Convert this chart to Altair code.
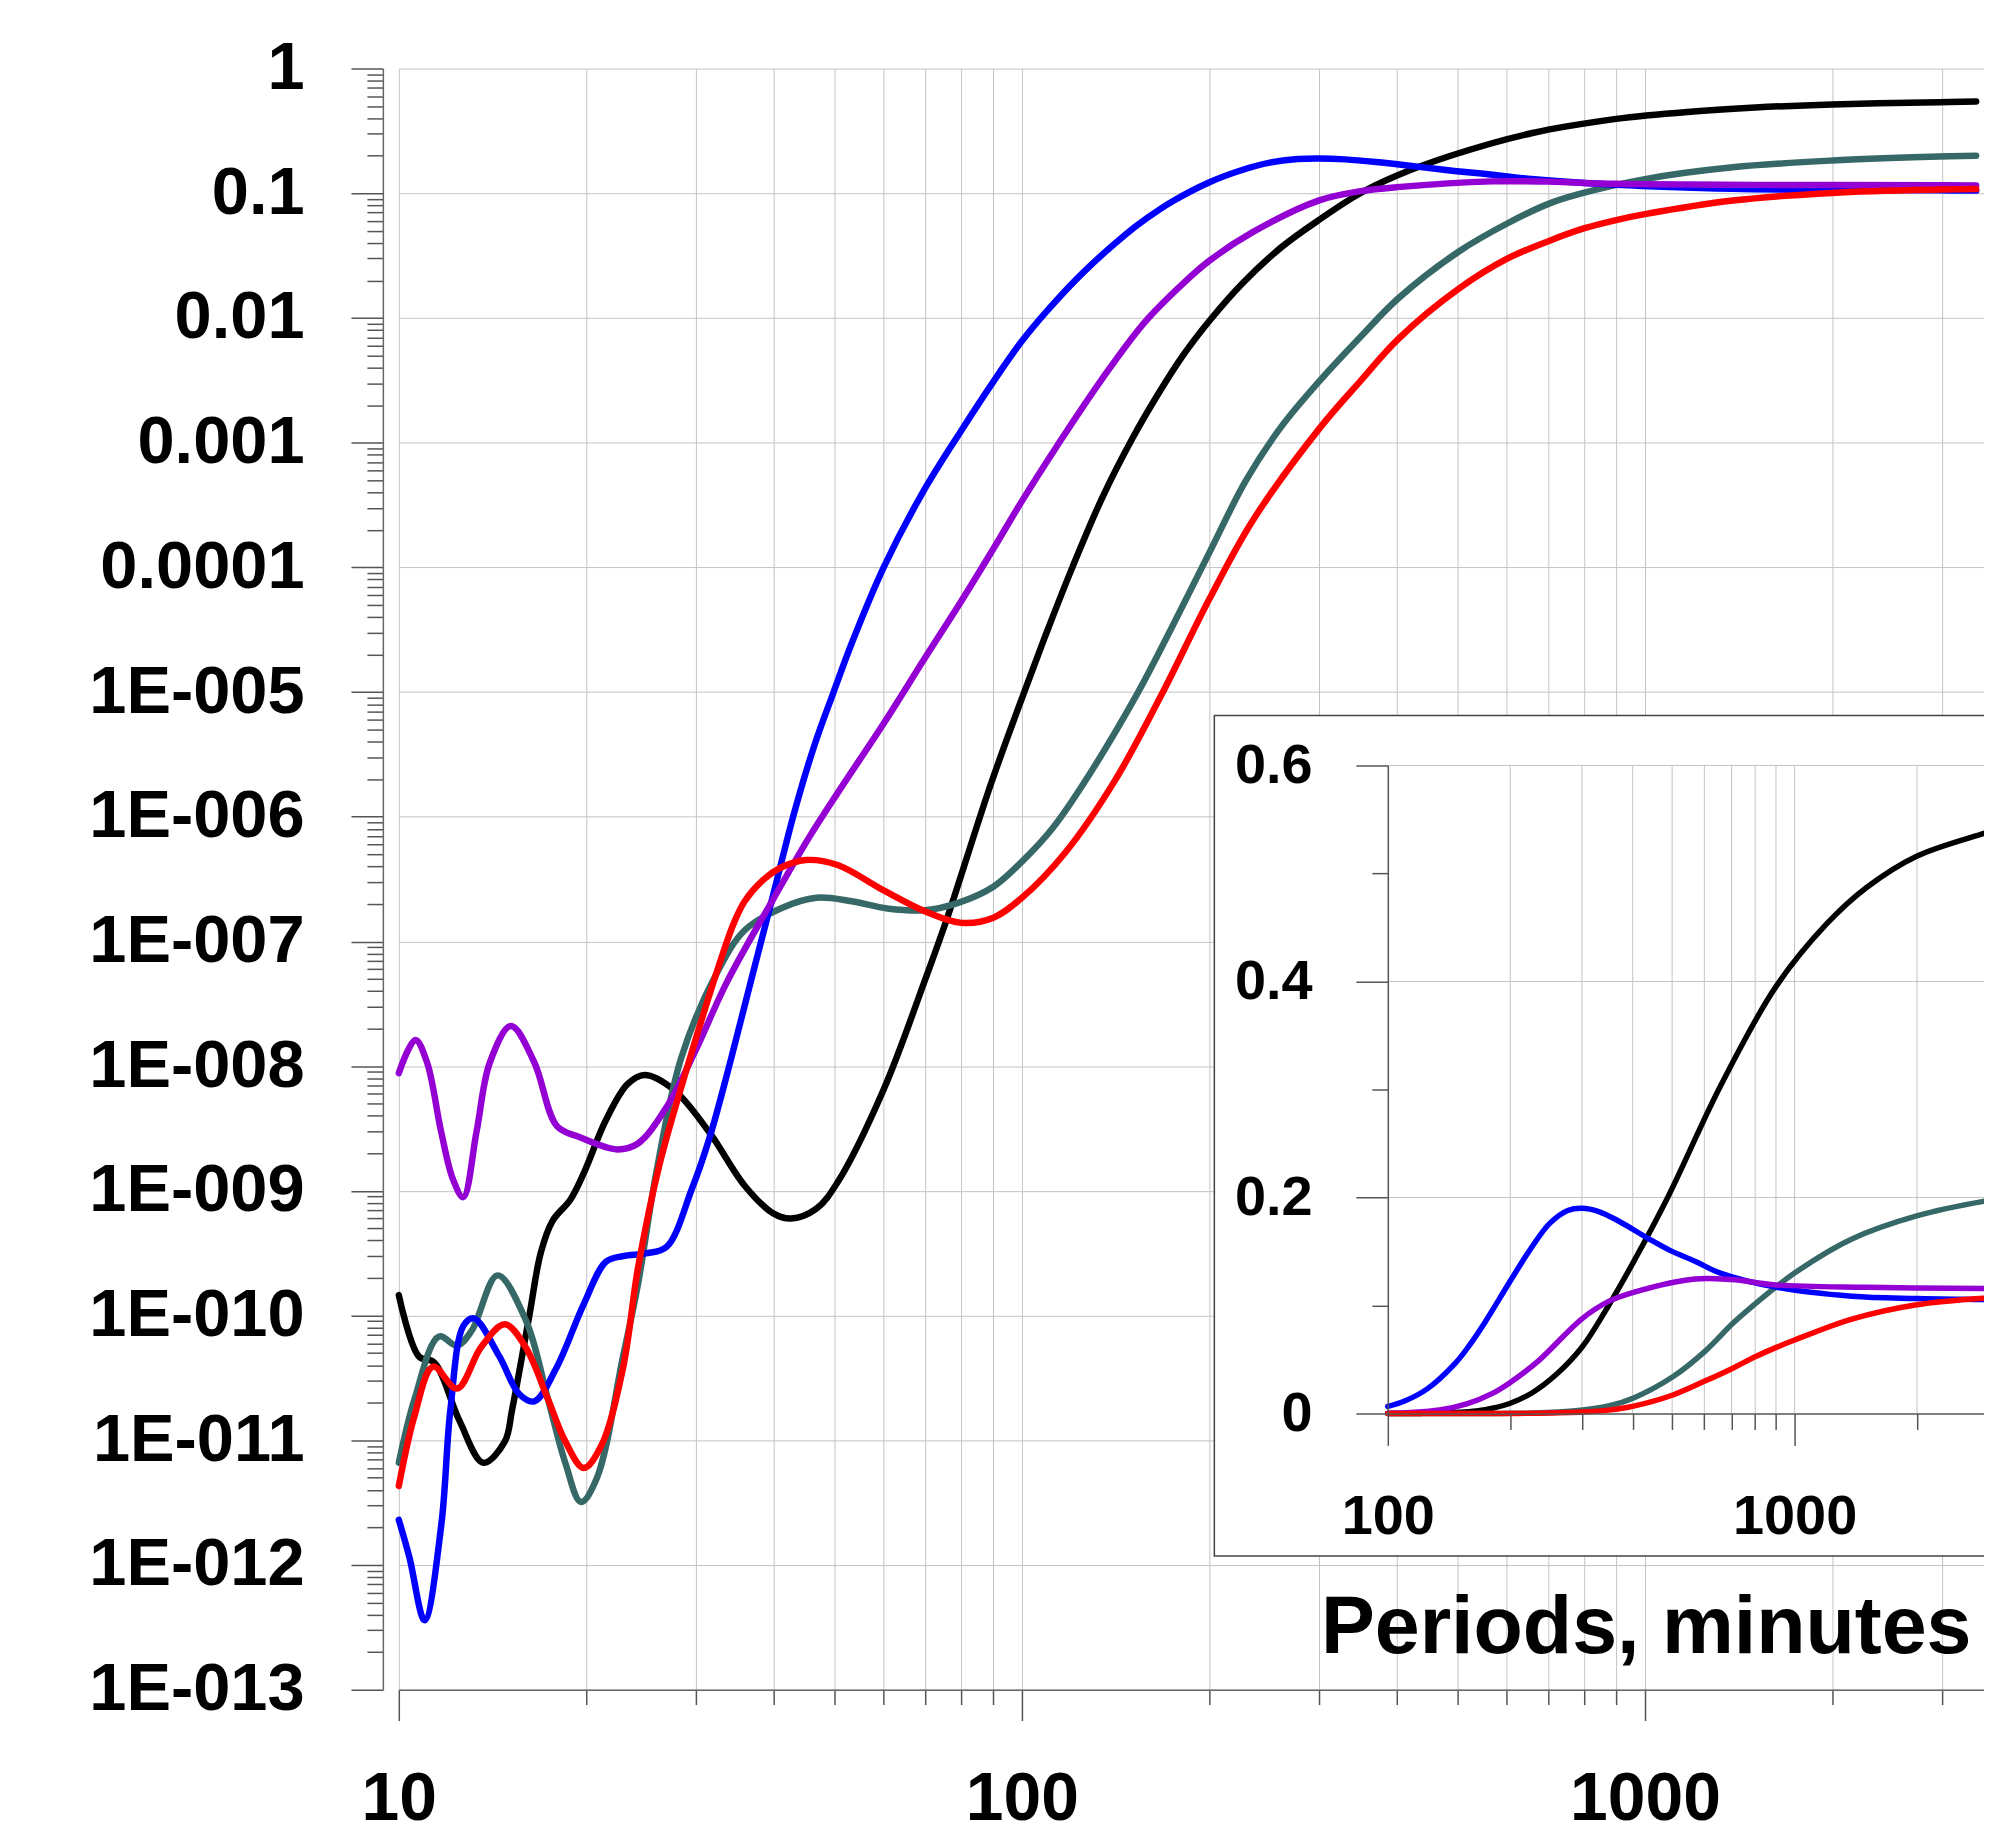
import altair as alt
import pandas as pd

# ---------------- data ----------------
SERIES = ["black", "slate", "blue", "purple", "red"]
COLORS = ["#000000", "#366868", "#0000ff", "#9400d3", "#ff0000"]

BLACK_X = [10, 10.77, 11.4, 12.5, 13.67, 14.8, 15.2, 16.2, 16.9, 17.65, 18.85, 19.8, 21.5, 23.3, 24.8,
           27.6, 31.5, 35.9, 39.9, 42.6, 46.8, 50.6, 60, 70, 76, 89, 100, 110, 120.5, 134.6, 150.7, 165,
           180.8, 200, 226, 261, 301, 349, 400, 489, 657, 899, 1197, 1503, 1996, 2970, 3400]
BLACK_Y = [1.46e-10, 4.7e-11, 4.2e-11, 1.45e-11, 6.6e-12, 9.8e-12, 1.76e-11, 1.0e-10, 3.2e-10, 5.75e-10,
           8.5e-10, 1.38e-9, 3.7e-9, 7.2e-9, 8.5e-9, 6.5e-9, 2.95e-9, 1.1e-9, 6.6e-10, 6.0e-10, 7.2e-10,
           1.17e-9, 6.5e-9, 5.0e-8, 1.58e-7, 1.78e-6, 8.9e-6, 3.16e-5, 1e-4, 3.63e-4, 1.1e-3, 2.4e-3, 4.9e-3,
           9.5e-3, 1.9e-2, 3.7e-2, 6.2e-2, 0.1, 0.139, 0.201, 0.303, 0.395, 0.453, 0.487, 0.516, 0.538, 0.545]

BLUE_X = [10, 10.4, 11.0, 11.7, 12.1, 12.7, 13.2, 14.5, 15.6, 16.5, 17.9, 19.8, 21.5, 22.9, 24.9, 26.9,
          29.5, 31.5, 34.1, 36.9, 40, 43.2, 46.5, 49.9, 53.3, 60, 69.3, 80, 90, 100, 110, 125, 147, 158.5,
          174, 200, 225, 250, 277, 300, 330, 370, 437, 494, 569, 657, 899, 1383, 2000, 2970, 3400]
BLUE_Y = [2.3e-12, 1.15e-12, 3.6e-13, 2.1e-12, 1.76e-11, 8.3e-11, 9.5e-11, 4.7e-11, 2.35e-11, 2.05e-11,
          3.8e-11, 1.23e-10, 2.7e-10, 3.0e-10, 3.15e-10, 3.55e-10, 1.02e-9, 2.63e-9, 1.12e-8, 5.25e-8,
          2.5e-7, 1.12e-6, 3.8e-6, 1.01e-5, 2.45e-5, 1e-4, 3.98e-4, 1.26e-3, 3.09e-3, 6.53e-3, 0.01156,
          0.0228, 0.0472, 0.0628, 0.0855, 0.1227, 0.153, 0.176, 0.188, 0.19, 0.187, 0.178, 0.162, 0.151,
          0.141, 0.130, 0.117, 0.1086, 0.1065, 0.1055, 0.105]

PURPLE_X = [10, 10.63, 11.1, 11.69, 12.2, 12.69, 13.33, 14.0, 15.14, 16.5, 17.94, 19.48, 22.4, 24.2,
            26.9, 29.9, 33.6, 40, 45.6, 50.9, 60, 70, 80, 90, 100, 114, 134, 157, 180.8, 200, 235, 300,
            350, 400, 569, 700, 899, 1500, 2970, 3400]
PURPLE_Y = [8.8e-9, 1.62e-8, 1.07e-8, 3.0e-9, 1.26e-9, 8.9e-10, 3.0e-9, 1.07e-8, 2.1e-8, 1.07e-8, 3.3e-9,
            2.7e-9, 2.15e-9, 2.4e-9, 4.7e-9, 1.32e-8, 4.7e-8, 2.24e-7, 6.9e-7, 1.62e-6, 5.6e-6, 1.9e-5,
            5.4e-5, 1.41e-4, 3.4e-4, 9.5e-4, 3.16e-3, 9.1e-3, 0.0186, 0.0288, 0.049, 0.0877, 0.104, 0.112,
            0.1246, 0.124, 0.119, 0.1168, 0.1158, 0.1155]

RED_X = [10, 10.6, 11.35, 12.4, 13.56, 14.8, 15.97, 17.35, 18.5, 19.8, 21.1, 22.9, 24.2, 26.2, 29.1,
         33.2, 34.5, 35.9, 38.4, 41, 45, 50.6, 60, 70, 80, 90, 100, 117.5, 141, 167.5, 200, 235, 301, 349,
         402, 502, 602, 703, 800, 899, 1000, 1383, 1996, 2970, 3400]
RED_Y = [4.3e-12, 1.58e-11, 3.9e-11, 2.6e-11, 5.6e-11, 8.5e-11, 5.6e-11, 2.14e-11, 9.8e-12, 6.0e-12,
         8.9e-12, 3.8e-11, 2.4e-10, 1.62e-9, 1.02e-8, 8.3e-8, 1.41e-7, 2.1e-7, 3.1e-7, 3.9e-7, 4.5e-7,
         4.1e-7, 2.57e-7, 1.74e-7, 1.41e-7, 1.55e-7, 2.24e-7, 5.2e-7, 1.95e-6, 9.5e-6, 5.6e-5, 2.4e-4,
         1.32e-3, 3.1e-3, 6.8e-3, 0.0171, 0.030, 0.0417, 0.0525, 0.061, 0.068, 0.0874, 0.1007, 0.107, 0.108]

SLATE_X = [10, 10.6, 11.6, 12.4, 13.1, 14.4, 16, 17.35, 18.5, 19.6, 20.8, 22.9, 24.2, 25.9, 28.4, 32.4,
           35.9, 41, 46.8, 53.3, 60.8, 70, 79, 90, 100, 112, 125, 152.8, 174, 200, 229, 261, 301, 349, 402,
           502, 602, 703, 780, 1000, 1383, 1996, 2970, 3400]
SLATE_Y = [6.6e-12, 2.14e-11, 6.8e-11, 5.75e-11, 7.6e-11, 2.1e-10, 9.1e-11, 2.14e-11, 6.6e-12, 3.2e-12,
           5.0e-12, 4.7e-11, 1.78e-10, 1.41e-9, 1.17e-8, 5.6e-8, 1.23e-7, 1.84e-7, 2.24e-7, 2.1e-7,
           1.84e-7, 1.78e-7, 2.04e-7, 2.75e-7, 4.37e-7, 8.1e-7, 1.78e-6, 9.5e-6, 3.3e-5, 1.32e-4, 5.0e-4,
           1.35e-3, 3.16e-3, 7.0e-3, 0.0144, 0.034, 0.0575, 0.083, 0.098, 0.13, 0.1616, 0.183, 0.197, 0.2]

# axis ticks / labels
X_MAJOR = [10, 100, 1000]
X_MINOR = [20, 30, 40, 50, 60, 70, 80, 90, 200, 300, 400, 500, 600, 700, 800, 900, 2000, 3000]
Y_EXP = list(range(0, 14))
Y_LABELS = ["1", "0.1", "0.01", "0.001", "0.0001", "1E-005", "1E-006", "1E-007", "1E-008",
            "1E-009", "1E-010", "1E-011", "1E-012", "1E-013"]
Y_MAJOR = [float(f"1e-{e}") for e in Y_EXP]
Y_MINOR = [float(f"{k}e-{e}") for e in range(1, 14) for k in range(2, 10)]

INSET_X_MAJOR = [100, 1000]
INSET_X_MINOR = [200, 300, 400, 500, 600, 700, 800, 900, 2000, 3000, 4000]
INSET_X_GRID = [200, 300, 400, 500, 600, 700, 800, 900, 1000, 2000, 3000, 4000]
INSET_Y_MAJOR = [0, 0.2, 0.4, 0.6]
INSET_Y_MINOR = [0.1, 0.3, 0.5]
INSET_Y_GRID = [0.2, 0.4, 0.6]

X_TITLE = "Periods, minutes"

# ---------------- tables ----------------
rows = []
for name, xs, ys in [("black", BLACK_X, BLACK_Y), ("slate", SLATE_X, SLATE_Y),
                     ("blue", BLUE_X, BLUE_Y), ("purple", PURPLE_X, PURPLE_Y),
                     ("red", RED_X, RED_Y)]:
    for x, y in zip(xs, ys):
        rows.append({"series": name, "period": x, "value": y})
main_df = pd.DataFrame(rows)
inset_df = main_df[main_df["period"] >= 100].reset_index(drop=True)

FONT = "Liberation Sans"
W, H = 1590, 1626

color = alt.Color("series:N", scale=alt.Scale(domain=SERIES, range=COLORS), legend=None)

x_main = alt.Scale(type="log", domain=[10, 3500], nice=False)
y_main = alt.Scale(type="log", domain=[1e-13, 1], nice=False)

label_expr = "[" + ",".join(f"'{l}'" for l in Y_LABELS) + "][round(-log(datum.value)/LN10)]"

common_tick = dict(tickColor="#555555", tickWidth=1.5)

x_major_axis = alt.Axis(orient="bottom", values=X_MAJOR, format="d", tickSize=31, grid=True,
                        gridColor="#c4c4c4", gridWidth=1, domainColor="#666666", domainWidth=1.5,
                        labelFont=FONT, labelFontWeight="bold", labelFontSize=68, labelColor="black",
                        labelPadding=45, labelFlush=False, labelOverlap=False, labelLimit=600,
                        title=X_TITLE, titleFont=FONT, titleFontWeight="bold", titleFontSize=81,
                        titleColor="black", titleX=1577, titleY=-37, titleAlign="right",
                        titleBaseline="alphabetic", **common_tick)
x_minor_axis = alt.Axis(orient="bottom", values=X_MINOR, tickSize=15, grid=True, gridColor="#c4c4c4",
                        gridWidth=1, labels=False, domain=False, title=None, **common_tick)
y_major_axis = alt.Axis(orient="left", values=Y_MAJOR, labelExpr=label_expr, tickSize=32, offset=16,
                        grid=True, gridColor="#c4c4c4", gridWidth=1, domainColor="#666666",
                        domainWidth=1.5, labelFont=FONT, labelFontWeight="bold", labelFontSize=67,
                        labelColor="black", labelPadding=47, labelBaseline="middle", labelFlush=False,
                        labelOverlap=False, labelLimit=600, title=None, **common_tick)
y_minor_axis = alt.Axis(orient="left", values=Y_MINOR, tickSize=16, offset=16, grid=False, labels=False,
                        domain=False, title=None, **common_tick)

main_lines = alt.Chart(main_df).mark_line(strokeWidth=6.5, interpolate="catmull-rom", strokeCap="round",
                                          strokeJoin="round").encode(
    x=alt.X("period:Q", scale=x_main, axis=x_major_axis),
    y=alt.Y("value:Q", scale=y_main, axis=y_major_axis),
    color=color,
)
main_minor = alt.Chart(main_df).mark_line(opacity=0).encode(
    x=alt.X("period:Q", scale=x_main, axis=x_minor_axis),
    y=alt.Y("value:Q", scale=y_main, axis=y_minor_axis),
    detail="series:N",
)
main = alt.layer(main_minor, main_lines).resolve_axis(x="independent", y="independent")

# inset frame (decoration)
box = alt.Chart(pd.DataFrame({"k": [0]})).mark_rect(fill="white", stroke="#444444", strokeWidth=1.5).encode(
    x=alt.value(818), x2=alt.value(1700), y=alt.value(649), y2=alt.value(1492)
)

# inset scales: placed inside the main plot area
IX0 = 992     # pixel of x=100
IDEC = 408    # pixels per decade
IY0 = 1349    # pixel of y=0
IY1 = 699     # pixel of y=0.6
x_inset = alt.Scale(type="log", domain=[100, 10000], range=[IX0, IX0 + 2 * IDEC], nice=False)
y_inset = alt.Scale(type="linear", domain=[0, 0.6], range=[IY0, IY1], nice=False, zero=False)

ix_major_axis = alt.Axis(orient="bottom", values=INSET_X_MAJOR, format="d", offset=-(H - IY0), tickSize=32,
                         grid=False, domainColor="#555555", domainWidth=1.5, labelFont=FONT,
                         labelFontWeight="bold", labelFontSize=56, labelColor="black", labelPadding=44,
                         labelFlush=False, labelOverlap=False, labelLimit=600, title=None, zindex=1,
                         **common_tick)
ix_minor_axis = alt.Axis(orient="bottom", values=INSET_X_MINOR, offset=-(H - IY0), tickSize=16, grid=False,
                         labels=False, domain=False, title=None, zindex=1, **common_tick)
iy_major_axis = alt.Axis(orient="left", values=INSET_Y_MAJOR, format="~g", offset=-IX0, tickSize=32,
                         grid=False, domainColor="#555555", domainWidth=1.5, labelFont=FONT,
                         labelFontWeight="bold", labelFontSize=56, labelColor="black", labelPadding=44,
                         labelBaseline="middle", labelFlush=False, labelOverlap=False, labelLimit=600,
                         title=None, zindex=1, **common_tick)
iy_minor_axis = alt.Axis(orient="left", values=INSET_Y_MINOR, offset=-IX0, tickSize=16, grid=False,
                         labels=False, domain=False, title=None, zindex=1, **common_tick)

vgrid = alt.Chart(pd.DataFrame({"gx": INSET_X_GRID})).mark_rule(color="#c4c4c4", strokeWidth=1).encode(
    x=alt.X("gx:Q", scale=x_inset, axis=None),
    y=alt.YDatum(0, scale=y_inset, axis=None),
    y2=alt.Y2Datum(0.6),
)
hgrid = alt.Chart(pd.DataFrame({"gy": INSET_Y_GRID})).mark_rule(color="#c4c4c4", strokeWidth=1).encode(
    y=alt.Y("gy:Q", scale=y_inset, axis=None),
    x=alt.XDatum(100, scale=x_inset, axis=None),
    x2=alt.X2Datum(10000),
)
inset_lines = alt.Chart(inset_df).mark_line(strokeWidth=5.5, interpolate="catmull-rom", strokeCap="round",
                                            strokeJoin="round").encode(
    x=alt.X("period:Q", scale=x_inset, axis=ix_major_axis),
    y=alt.Y("value:Q", scale=y_inset, axis=iy_major_axis),
    color=color,
)
inset_minor = alt.Chart(inset_df).mark_line(opacity=0).encode(
    x=alt.X("period:Q", scale=x_inset, axis=ix_minor_axis),
    y=alt.Y("value:Q", scale=y_inset, axis=iy_minor_axis),
    detail="series:N",
)
inset = alt.layer(vgrid, hgrid, inset_minor, inset_lines).resolve_axis(x="independent", y="independent")

chart = alt.layer(main, box, inset).resolve_scale(
    x="independent", y="independent"
).resolve_axis(
    x="independent", y="independent"
).properties(
    width=W, height=H,
    autosize=alt.AutoSizeParams(type="none"),
    padding={"left": 392, "top": 58, "right": 0, "bottom": 135},
    background="white",
).configure_view(stroke="transparent")

chart.save("out.html", embed_options={"renderer": "svg", "actions": False})
